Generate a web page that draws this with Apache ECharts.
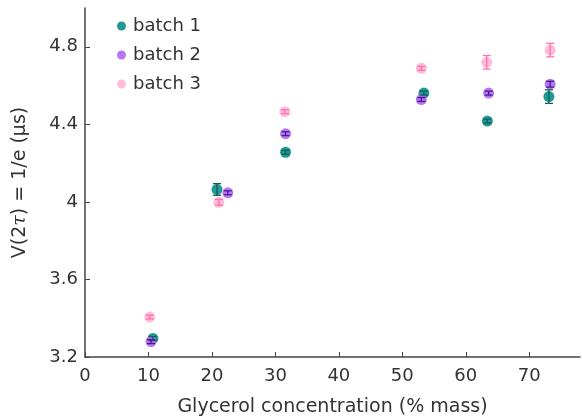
<!DOCTYPE html>
<html><head><meta charset="utf-8">
<script src="https://cdn.jsdelivr.net/npm/echarts@6/dist/echarts.min.js"></script>
<style>html,body{margin:0;padding:0;background:#fff}#c{width:582px;height:416px}</style>
</head><body><div id="c"></div>
<script>
const seriesNames = ['batch 1', 'batch 2', 'batch 3'];
const b1X = [10.7, 20.8, 31.6, 53.4, 63.4, 73.1];
const b1Y = [3.296, 4.064, 4.256, 4.561, 4.417, 4.543];
const b1E = [0.01, 0.03, 0.01, 0.01, 0.01, 0.035];
const b2X = [10.4, 22.5, 31.6, 53.0, 63.6, 73.3];
const b2Y = [3.279, 4.047, 4.352, 4.528, 4.561, 4.607];
const b2E = [0.01, 0.01, 0.01, 0.01, 0.01, 0.015];
const b3X = [10.2, 21.1, 31.5, 53.0, 63.3, 73.3];
const b3Y = [3.406, 3.998, 4.465, 4.689, 4.72, 4.783];
const b3E = [0.01, 0.015, 0.01, 0.01, 0.035, 0.035];
const xTicks = [0, 10, 20, 30, 40, 50, 60, 70];
const yTicks = [3.2, 3.6, 4, 4.4, 4.8];

const colors = ['#0a8f87', '#b066f5', '#ffb6d5'];
const errColors = ['#0b5e58', '#4a1a8a', '#ff70ae'];
const batches = [[b1X, b1Y, b1E], [b2X, b2Y, b2E], [b3X, b3Y, b3E]];

const series = [];
batches.forEach((b, i) => {
  const pts = b[0].map((x, k) => [x, b[1][k], b[2][k]]);
  series.push({
    name: seriesNames[i], type: 'scatter', data: pts.map(p => [p[0], p[1]]),
    symbolSize: 11, itemStyle: { color: colors[i], opacity: 0.9 }, z: 2
  });
  series.push({
    name: seriesNames[i] + ' err', type: 'custom', data: pts, z: 3,
    renderItem: function (params, api) {
      const x = api.value(0), y = api.value(1), e = api.value(2);
      const lo = api.coord([x, y - e]), hi = api.coord([x, y + e]);
      const hw = 4;
      const st = { stroke: errColors[i], lineWidth: 1.3, fill: null };
      return { type: 'group', children: [
        { type: 'line', shape: { x1: lo[0], y1: lo[1], x2: hi[0], y2: hi[1] }, style: st },
        { type: 'line', shape: { x1: lo[0] - hw, y1: lo[1], x2: lo[0] + hw, y2: lo[1] }, style: st },
        { type: 'line', shape: { x1: hi[0] - hw, y1: hi[1], x2: hi[0] + hw, y2: hi[1] }, style: st }
      ]};
    },
    encode: { x: 0, y: 1 }, silent: true
  });
});

const chart = echarts.init(document.getElementById('c'));
chart.setOption({
  animation: false,
  textStyle: { fontFamily: 'DejaVu Sans' },
  grid: { left: 85, right: 2, top: 8, bottom: 59, outerBoundsMode: 'none', containLabel: false },
  legend: {
    data: seriesNames, orient: 'vertical', left: 112, top: 12,
    icon: 'circle', itemWidth: 9, itemHeight: 9, itemGap: 11,
    textStyle: { fontSize: 18, color: '#333', fontFamily: 'DejaVu Sans', padding: [0, 0, 0, 2] }
  },
  xAxis: {
    type: 'value', min: 0, max: 78,
    name: 'Glycerol concentration (% mass)', nameLocation: 'middle', nameGap: 41,
    nameTextStyle: { fontSize: 19, color: '#333' },
    axisLine: { lineStyle: { color: '#444', width: 1.5 } },
    axisTick: { inside: true, length: 5, lineStyle: { color: '#444' }, customValues: xTicks },
    axisLabel: { fontSize: 18, color: '#333', margin: 10, customValues: xTicks },
    splitLine: { show: false }
  },
  yAxis: {
    type: 'value', min: 3.2, max: 5.0,
    name: '{a|V(2}{i|τ}{a|) = 1/e (μs)}', nameLocation: 'middle', nameGap: 55,
    nameTextStyle: { rich: { a: { fontSize: 19, color: '#333', fontFamily: 'DejaVu Sans' },
      i: { fontSize: 19, color: '#333', fontStyle: 'italic', fontFamily: 'DejaVu Serif' } } },
    axisLine: { show: true, lineStyle: { color: '#444', width: 1.5 } },
    axisTick: { show: true, inside: true, length: 5, lineStyle: { color: '#444' }, customValues: yTicks },
    axisLabel: { fontSize: 18, color: '#333', margin: 7, customValues: yTicks,
      formatter: v => String(Math.round(v * 10) / 10) },
    splitLine: { show: false }
  },
  series: series
});
</script></body></html>
